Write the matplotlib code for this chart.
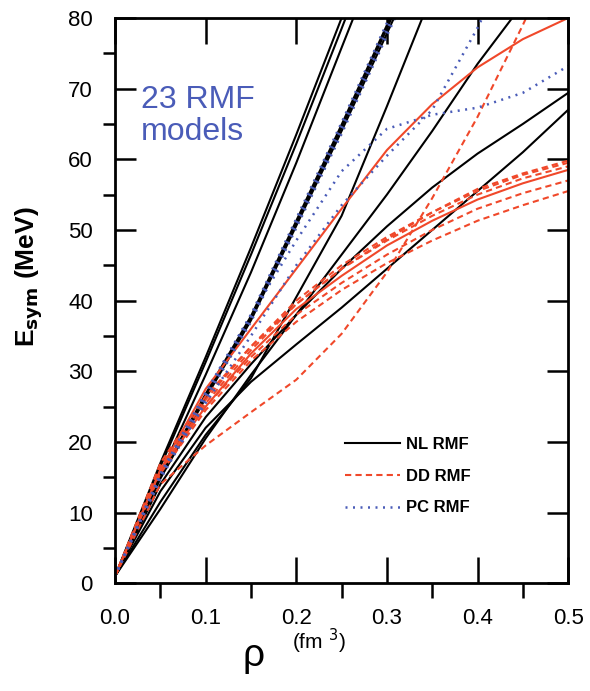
import matplotlib.pyplot as plt
import numpy as np

plt.rcParams['font.family'] = ['Liberation Sans', 'DejaVu Sans']

rho = [0.0, 0.05, 0.1, 0.15, 0.2, 0.25, 0.3, 0.35, 0.4, 0.45, 0.5]

# NL RMF (black solid)
nl_models = [
    [1, 17.0, 32.0, 47.5, 63.5, 80.0, 97.0],
    [1, 16.5, 31.3, 46.5, 62.2, 78.5, 95.0],
    [1, 15.5, 29.5, 44.0, 59.5, 75.8, 92.0],
    [1, 15.0, 26.5, 37.5, 51.0, 64.5, 78.5, 93.0],
    [1, 14.8, 26.2, 37.2, 50.6, 64.0, 77.8, 92.0],
    [1, 15.2, 26.8, 37.8, 51.3, 64.9, 79.0, 93.5],
    [1, 11.5, 21.0, 29.0, 40.5, 52.0, 67.5, 83.5],
    [1, 10.5, 20.5, 29.5, 38.0, 46.5, 55.0, 64.0, 73.5, 82.0],
    [1, 13.0, 22.0, 28.5, 33.8, 39.0, 44.5, 50.0, 55.5, 61.0, 67.0],
    [1, 14.0, 23.5, 31.0, 38.0, 44.5, 50.5, 56.0, 60.8, 65.0, 69.4],
]

# DD RMF (red dashed)
dd_models = [
    [1, 16.5, 26.0, 33.5, 40.0, 45.0, 49.0, 52.5, 55.5, 57.8, 59.5],
    [1, 16.0, 25.5, 33.0, 39.5, 44.5, 48.5, 52.0, 55.0, 57.3, 59.0],
    [1, 16.0, 25.0, 32.0, 38.0, 42.5, 46.5, 50.0, 53.0, 55.2, 57.0],
    [1, 15.5, 24.5, 31.5, 37.0, 41.5, 45.3, 48.5, 51.3, 53.5, 55.5],
    [1, 17.0, 26.5, 33.5, 39.5, 44.5, 48.7, 52.5, 55.8, 58.0, 59.8],
    [1, 14.0, 19.5, 24.2, 28.8, 35.3, 44.0, 54.5, 66.0, 79.0, 93.0],
]
# DD models drawn solid
dd_solid = [
    [1, 16.0, 25.0, 32.5, 38.8, 43.5, 47.8, 51.3, 54.3, 56.6, 58.5],
    [1, 16.0, 27.5, 36.0, 44.5, 53.0, 61.3, 67.8, 73.0, 77.0, 80.0],
]

# PC RMF (blue dotted)
pc_models = [
    [1, 15.3, 26.9, 38.0, 51.6, 65.2, 79.3, 94.0],
    [1, 14.7, 26.0, 37.0, 50.3, 63.6, 77.5, 91.5],
    [1, 15.0, 26.4, 37.4, 50.9, 64.4, 78.3, 92.5],
    [1, 15.0, 25.5, 35.0, 45.0, 53.5, 60.5, 67.0, 78.6, 92.0],
    [1, 15.5, 27.0, 38.0, 48.5, 58.3, 64.3, 66.3, 67.3, 69.4, 73.2],
]

black = 'black'
red = '#f0482a'
blue = '#4a5cb8'

fig = plt.figure(figsize=(5.9, 6.91), dpi=100)
ax = fig.add_axes([0.195, 0.156, 0.768, 0.818])

for i, m in enumerate(nl_models):
    ax.plot(rho[:len(m)], m, color=black, lw=1.5,
            label='NL RMF' if i == 0 else None)
for i, m in enumerate(dd_models):
    ax.plot(rho[:len(m)], m, color=red, lw=1.5, ls=(0, (3, 2)),
            label='DD RMF' if i == 0 else None)
for m in dd_solid:
    ax.plot(rho[:len(m)], m, color=red, lw=1.5)
for i, m in enumerate(pc_models):
    ax.plot(rho[:len(m)], m, color=blue, lw=1.8, ls=(0, (0.8, 2.2)),
            label='PC RMF' if i == 0 else None)

ax.set_xlim(0, 0.5)
ax.set_ylim(0, 80)
ax.set_xticks(np.arange(0, 0.51, 0.1))
ax.set_xticks(np.arange(0.05, 0.5, 0.1), minor=True)
ax.set_xticklabels(['0.0', '0.1', '0.2', '0.3', '0.4', '0.5'])
ax.set_yticks(np.arange(0, 81, 10))
ax.set_yticks(np.arange(5, 80, 10), minor=True)
ax.tick_params(direction='in', top=True, right=True, width=1.8,
               labelsize=16)
ax.tick_params(axis='x', which='major', length=19, pad=18)
ax.tick_params(axis='x', which='minor', length=11, width=1.8)
ax.tick_params(axis='y', which='major', length=15, pad=16)
ax.tick_params(axis='y', which='minor', length=8.5, width=1.8)
for s in ax.spines.values():
    s.set_linewidth(2)

ax.text(0.029, 62.7, '23 RMF\nmodels', color=blue, fontsize=23,
        linespacing=1.1, va='baseline')

ax.legend(loc='upper left', bbox_to_anchor=(0.475, 0.285), frameon=False,
          handlelength=3.3, prop={'weight': 'bold', 'size': 12},
          labelspacing=1.0, handletextpad=0.35)

fig.text(0.05, 0.60, r'E$_{\mathbf{sym}}$ (MeV)', rotation=90, fontsize=19,
         fontweight='bold', ha='center', va='center')
fig.text(0.43, 0.05, 'ρ', fontsize=28, ha='center', va='center')
fig.text(0.54, 0.072, r'(fm $^{3}$)', fontsize=15, ha='center', va='center')

fig.savefig('out.png', dpi=100)
